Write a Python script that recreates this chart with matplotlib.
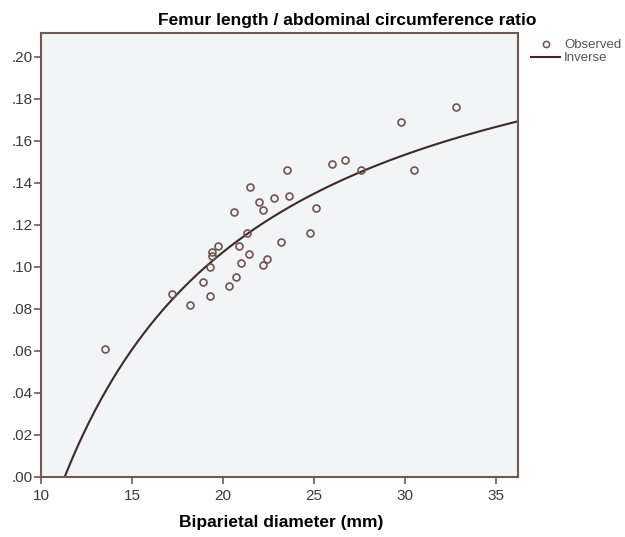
import numpy as np
import matplotlib
matplotlib.use('Agg')
import matplotlib.pyplot as plt
from matplotlib.lines import Line2D
from matplotlib.ticker import FuncFormatter

plt.rcParams['font.family'] = ['Liberation Sans Narrow', 'Liberation Sans', 'DejaVu Sans']

# observed points: biparietal diameter (mm) vs FL/AC ratio
bpd = [13.5, 17.2, 18.2, 18.9, 19.3, 19.3, 19.4, 19.4, 19.7, 20.3, 20.6,
       20.7, 20.9, 21.0, 21.3, 21.4, 21.5, 22.0, 22.2, 22.2, 22.4, 22.8,
       23.2, 23.5, 23.6, 24.8, 25.1, 26.0, 26.7, 27.6, 29.8, 30.5, 32.8]
ratio = [0.061, 0.087, 0.082, 0.093, 0.086, 0.100, 0.105, 0.107, 0.110, 0.091, 0.126,
         0.095, 0.110, 0.102, 0.116, 0.106, 0.138, 0.131, 0.127, 0.101, 0.104, 0.133,
         0.112, 0.146, 0.134, 0.116, 0.128, 0.149, 0.151, 0.146, 0.169, 0.146, 0.176]

# inverse model y = b0 + b1/x
b0 = 0.2462
b1 = -2.782

xticks = [10, 15, 20, 25, 30, 35]
yticks = [0.00, 0.02, 0.04, 0.06, 0.08, 0.10, 0.12, 0.14, 0.16, 0.18, 0.20]

spine_col = '#6e5a55'
pt_col = '#6b5550'
line_col = '#3b2b2b'

fig = plt.figure(figsize=(6.25, 5.37), dpi=100)
ax = fig.add_axes([41/625, 1-477/537, 477/625, 444/537])
ax.set_facecolor('#f2f4f5')

xs = np.linspace(-b1/b0, 36.2, 300)
ax.plot(xs, b0 + b1/xs, color=line_col, lw=1.5, zorder=2)
ax.plot(bpd, ratio, 'o', mfc='none', mec=pt_col, mew=1.2, ms=5, zorder=3)

ax.set_xlim(10, 36.2)
ax.set_ylim(0, 0.2114)
ax.set_xticks(xticks)
ax.set_yticks(yticks)
ax.yaxis.set_major_formatter(FuncFormatter(lambda v, p: ('%.2f' % v)[1:]))
ax.tick_params(direction='out', length=5, width=1.2, color=spine_col,
               labelcolor='#3a3a3a', labelsize=11, pad=1)
ax.tick_params(axis='x', pad=4)
for s in ax.spines.values():
    s.set_color(spine_col)
    s.set_linewidth(1.5)

fig.text(347/625, 1-21/537, 'Femur length / abdominal circumference ratio',
         ha='center', va='center', fontsize=12.5, fontweight='bold',
         family=['Liberation Sans', 'DejaVu Sans'])
fig.text(281/625, 1-522/537, 'Biparietal diameter (mm)', ha='center', va='center',
         fontsize=12.5, fontweight='bold', family=['Liberation Sans', 'DejaVu Sans'])

handles = [Line2D([], [], ls='none', marker='o', mfc='none', mec=pt_col, mew=1.1, ms=4.5),
           Line2D([], [], color=line_col, lw=1.5)]
fig.legend(handles, ['Observed', 'Inverse'], loc='upper left',
           bbox_to_anchor=(522/625, 1-30/537), frameon=False, fontsize=9.5,
           handlelength=2.2, handletextpad=0.3, labelspacing=0.05, borderpad=0.2,
           labelcolor='#555555')

fig.savefig('out.png', dpi=100, facecolor='white')
